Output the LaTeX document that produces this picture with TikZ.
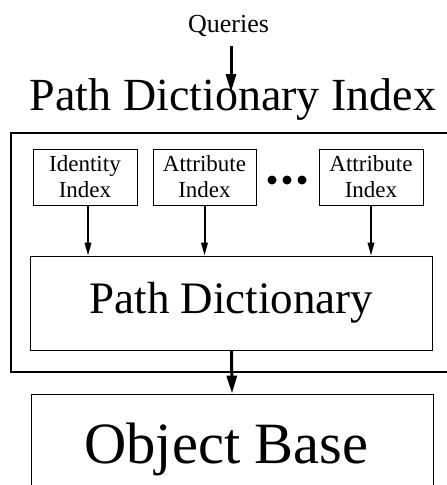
\documentclass[tikz,border=0pt]{standalone}
\usepackage{fontspec}
\setmainfont{Liberation Serif}
\usetikzlibrary{arrows.meta,positioning}
\tikzset{
  idxbox/.style={draw, line width=0.8pt, minimum width=104pt, minimum height=56pt,
    align=center, inner sep=0pt, font=\fontsize{23}{26}\selectfont},
  bigbox/.style={draw, line width=0.8pt, minimum width=402pt, inner sep=0pt},
  arr/.style={-{Triangle[length=13pt,width=6.5pt]}, line width=2pt},
  bigarr/.style={-{Triangle[length=18pt,width=10pt]}, line width=3pt},
  dot/.style={circle, fill, inner sep=0pt, minimum size=9pt}
}

\begin{document}
\begin{tikzpicture}[x=1pt,y=-1pt]
  \useasboundingbox (0,0) rectangle (447,485);
  \clip (0,0) rectangle (447,485);

  \node[font=\fontsize{26}{30}\selectfont, anchor=base] (queries) at (228.5,32) {Queries};
  \node[font=\fontsize{46}{50}\selectfont, anchor=base] (title) at (233,110) {Path Dictionary Index};
  \coordinate (qout) at (231,46);
  \coordinate (qin) at (231,92);
  \draw[bigarr] (qout) -- (qin);

  % outer frame, runs off the right edge
  \node[draw, line width=2.5pt, minimum width=459pt, minimum height=239pt] (pdi) at (240.5,252.5) {};

  \node[idxbox] (ident) at (85,177) {Identity\\Index};
  \node[idxbox, minimum width=103pt] (attr) at (204.5,177) {Attribute\\Index};
  \node[idxbox] (attrn) at (371,177) {Attribute\\Index};
  \foreach \x [count=\i] in {272,287,302}
    \node[dot] (dot\i) at (\x,180) {};

  \node[bigbox, minimum height=94pt, font=\fontsize{45}{50}\selectfont] (pathdict) at (231.5,303) {Path Dictionary};
  \node[bigbox, minimum height=110pt, font=\fontsize{58.5}{64}\selectfont] (obase) at (232,449) {\hspace*{-11pt}Object Base};

  \draw[arr] ([xshift=3pt]ident.south) -- ([xshift=3pt]ident.south |- pathdict.north);
  \draw[arr] (attr.south) -- (attr.south |- pathdict.north);
  \draw[arr] (attrn.south) -- (attrn.south |- pathdict.north);
  \draw[bigarr] (pathdict.south) -- (obase.north);
\end{tikzpicture}
\end{document}
